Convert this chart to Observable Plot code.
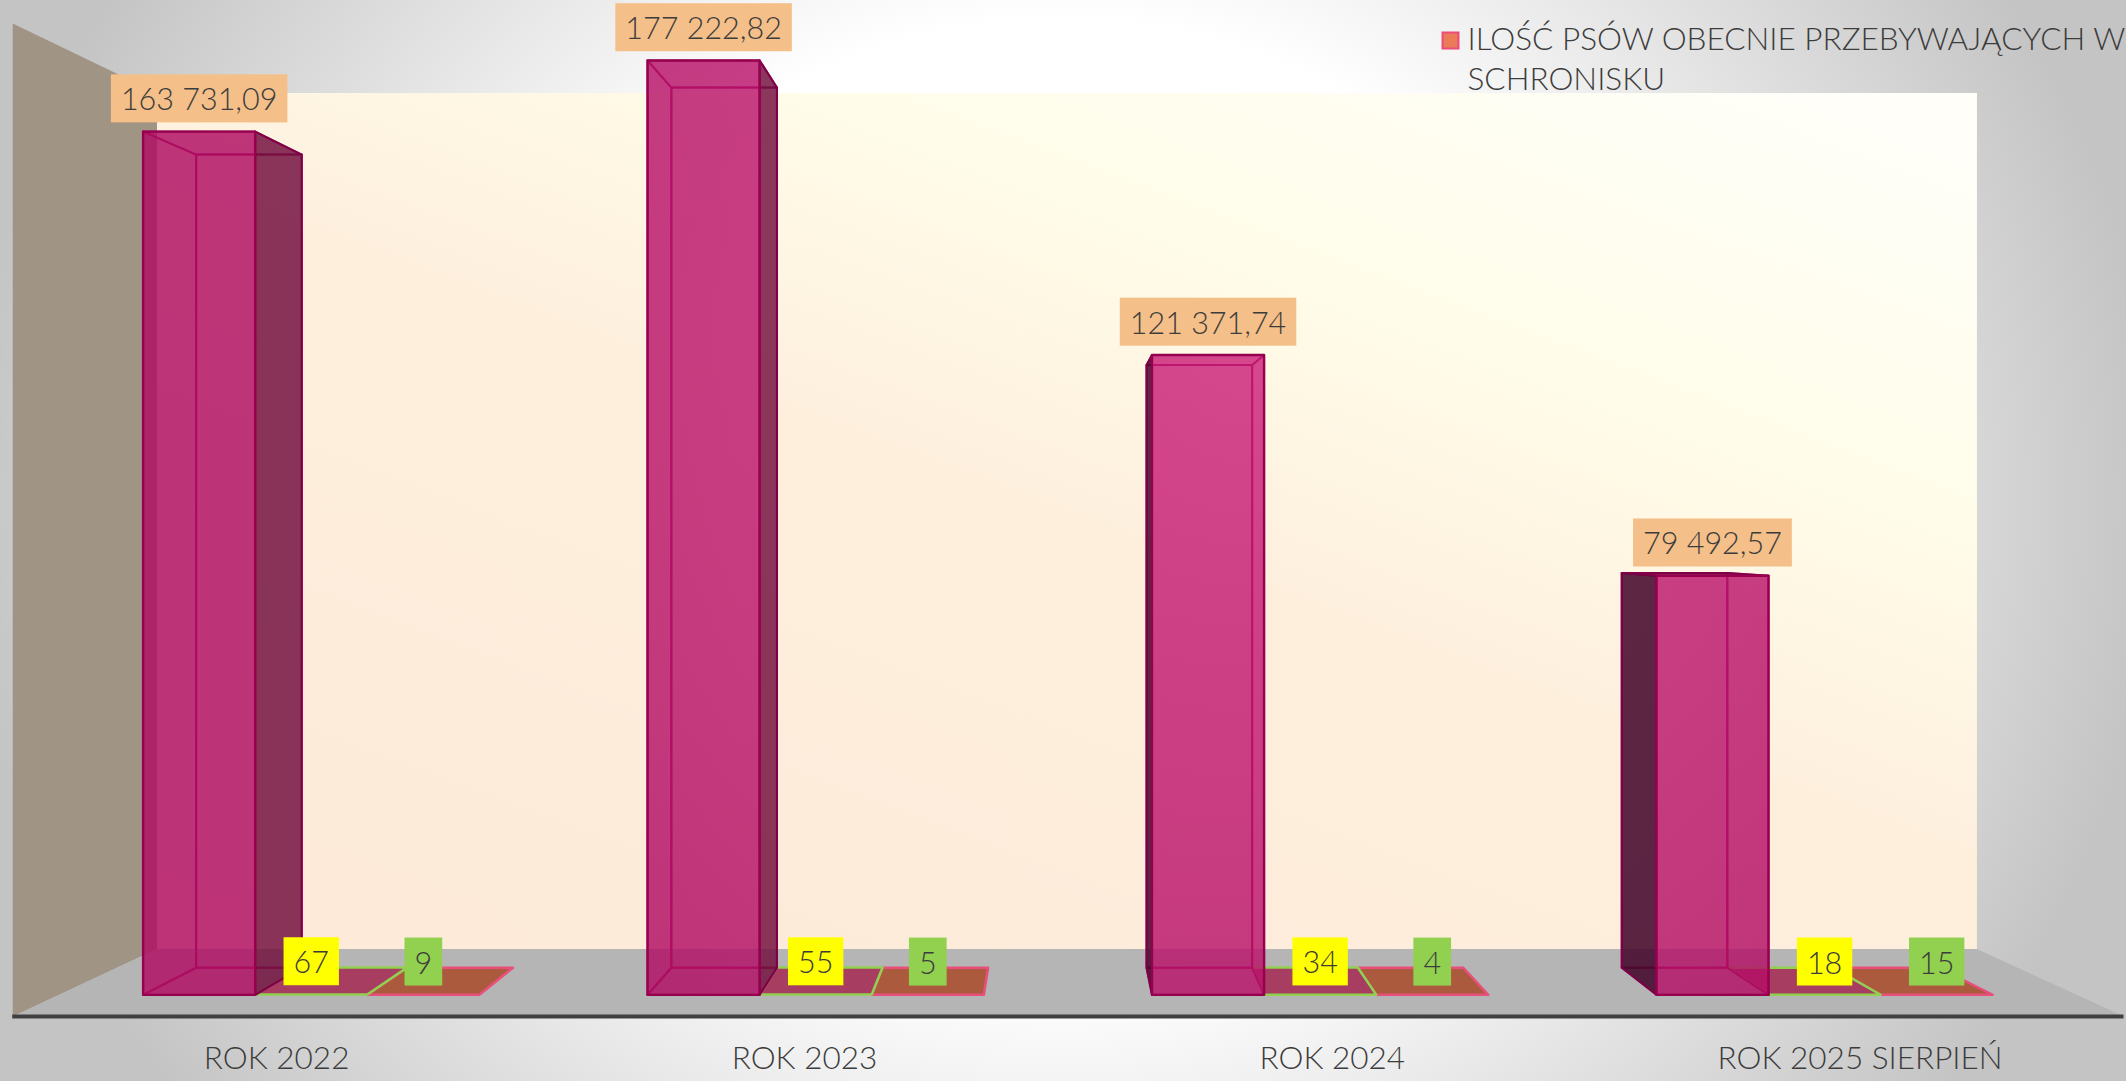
<!DOCTYPE html>
<html lang="pl">
<head>
<meta charset="utf-8">
<script src="https://cdn.jsdelivr.net/npm/d3@7"></script>
<script src="https://cdn.jsdelivr.net/npm/@observablehq/plot@0.6"></script>
<style>
html,body{margin:0;padding:0;width:2126px;height:1081px;overflow:hidden;
background:radial-gradient(ellipse 1100px 1000px at 1060px 500px,#fff 0,#fff 48%,#c4c4c4 100%);}
svg{display:block}
</style>
</head>
<body>
<div id="chart"></div>
<script>
const categories = ["ROK 2022", "ROK 2023", "ROK 2024", "ROK 2025 SIERPIEŃ"];
const dogsPresent = [163731.09, 177222.82, 121371.74, 79492.57];
const secondSeries = [67, 55, 34, 18];
const thirdSeries = [9, 5, 4, 15];
const legendLabel = "ILOŚĆ PSÓW OBECNIE PRZEBYWAJĄCYCH W\nSCHRONISKU";

const FONT = "Lato, 'Noto Sans', sans-serif";
const yMax = 180000;
// perspective of the chart's 3D box, in the chart's own units
const vp = {x: 1.981, v: 88650};
const depth = {wall: 0.862, barFront: 0.9557, barBack: 0.9003};
const project = (x, v, k) => ({x: vp.x + (x - vp.x) * k, y: vp.v + (v - vp.v) * k});
const poly = (id, pts) => [...pts, pts[0]].map(([x, v, k]) => ({id, ...project(x, v, k)}));

const pl = d3.formatLocale({decimal: ",", thousands: " ", grouping: [3]});
const fmt2 = pl.format(",.2f");

const barW = 2 / 9, gap = 1 / 6;
const faces = {inner: [], outerL: [], outerR: [], back: [], front: [], slab2: [], slab3: []};
const labels = {s1: [], s2: [], s3: []};
const {barFront: kf, barBack: kb} = depth;

categories.forEach((c, i) => {
  const x0 = i + gap, x1 = x0 + barW, v = dogsPresent[i];
  const id = "b" + i;
  const sides = {
    left: [[x0,0,kf],[x0,v,kf],[x0,v,kb],[x0,0,kb]],
    right: [[x1,0,kf],[x1,v,kf],[x1,v,kb],[x1,0,kb]],
    top: [[x0,v,kf],[x1,v,kf],[x1,v,kb],[x0,v,kb]],
    bottom: [[x0,0,kf],[x1,0,kf],[x1,0,kb],[x0,0,kb]]
  };
  const outerSide = x1 < vp.x ? "right" : "left";
  const outerTop = v < vp.v;
  faces.back.push(...poly(id + "back", [[x0,0,kb],[x1,0,kb],[x1,v,kb],[x0,v,kb]]));
  faces.front.push(...poly(id + "front", [[x0,0,kf],[x1,0,kf],[x1,v,kf],[x0,v,kf]]));
  for (const [name, pts] of Object.entries(sides)) {
    if (name === outerSide) (name === "left" ? faces.outerL : faces.outerR).push(...poly(id + name, pts));
    else if (name === "top" && outerTop) faces.outerR.push(...poly(id + name, pts));
    else faces.inner.push(...poly(id + name, pts));
  }
  [[secondSeries, "slab2", "s2"], [thirdSeries, "slab3", "s3"]].forEach(([arr, key, lk], n) => {
    const a = x1 + n * barW, b = a + barW, w = arr[i];
    faces[key].push(...poly(key + i, [[a,w,kf],[b,w,kf],[b,w,kb],[a,w,kb]]));
    labels[lk].push({...project((a + b) / 2, w, kf), t: String(w)});
  });
  labels.s1.push({...project((x0 + x1) / 2, v, kf), t: fmt2(v)});
});

const wall = poly("wall", [[0,0,depth.wall],[4,0,depth.wall],[4,yMax,depth.wall],[0,yMax,depth.wall]]);
const leftWall = poly("lw", [[0,0,1],[0,yMax,1],[0,yMax,depth.wall],[0,0,depth.wall]]);
const floor = poly("floor", [[0,0,1],[4,0,1],[4,0,depth.wall],[0,0,depth.wall]]);

const defs = () => {
  const d = d3.create("svg:defs");
  const g = d.append("linearGradient").attr("id", "wallGrad")
    .attr("x1", 0.1).attr("y1", 1).attr("x2", 0.9).attr("y2", 0);
  [[0,"#fdead9"],[0.5,"#feefdd"],[0.75,"#fffdea"],[1,"#fffef8"]].forEach(([o,c]) =>
    g.append("stop").attr("offset", o).attr("stop-color", c));
  const b = d.append("radialGradient").attr("id", "barGrad").attr("gradientUnits", "userSpaceOnUse")
    .attr("cx", 1250).attr("cy", 350).attr("r", 900);
  [[0,"#cd227b"],[1,"#b00c62"]].forEach(([o,c]) =>
    b.append("stop").attr("offset", o).attr("stop-color", c));
  return d.node();
};

const face = (data, o) => Plot.line(data, {x: "x", y: "y", z: "id", ...o});
const BAR = "url(#barGrad)";
const valueText = (data) => Plot.text(data, {
  x: "x", y: "y", text: "t", dy: -31, fontSize: 30.5, fontWeight: 300,
  fill: "#3c3c3c", lineAnchor: "middle", fontFamily: FONT
});

const chart = Plot.plot({
  width: 2126, height: 1081,
  margin: 0, marginTop: 0, marginRight: 0, marginBottom: 0, marginLeft: 0,
  style: {background: "transparent"},
  x: {type: "linear", domain: [0, 4], range: [12.2, 2123.5], axis: null},
  y: {type: "linear", domain: [0, yMax], range: [1016, 23], axis: null},
  marks: [
    defs,
    face(wall, {fill: "url(#wallGrad)", stroke: "none"}),
    face(leftWall, {fill: "#a09485", stroke: "none"}),
    face(floor, {fill: "#b5b5b5", stroke: "none"}),
    face(faces.slab3, {fill: "#ab5a3e", stroke: "#ea4f7c", strokeWidth: 2.5}),
    face(faces.slab2, {fill: "#a83d62", stroke: "#92d050", strokeWidth: 2.5}),
    face(faces.back, {fill: BAR, fillOpacity: 0.58, stroke: "#a8085e", strokeWidth: 2}),
    face(faces.inner, {fill: BAR, fillOpacity: 0.58, stroke: "#a8085e", strokeOpacity: 0.8, strokeWidth: 2}),
    face(faces.outerR, {fill: "#5c1232", fillOpacity: 0.62, stroke: "#7f0048", strokeWidth: 2}),
    face(faces.outerL, {fill: "#2c0820", fillOpacity: 0.72, stroke: "#7f0048", strokeWidth: 2}),
    face(faces.front, {fill: BAR, fillOpacity: 0.58, stroke: "#96004f", strokeWidth: 2.4}),
    Plot.ruleY([0], {x1: 0, x2: 4, stroke: "#404040", strokeWidth: 4}),
    Plot.text(categories, {
      x: (d, i) => i + 0.5, y: () => 0, text: d => d, dy: 42, fontSize: 31.5, fontWeight: 300,
      fill: "#3c3c3c", fontFamily: FONT, lineAnchor: "middle"
    }),
    Plot.dot([legendLabel], {
      frameAnchor: "top-left", dx: 1450, dy: 40, symbol: "square", r: 9,
      fill: "#ea7b58", stroke: "#ec4a7a", strokeWidth: 2
    }),
    Plot.text([legendLabel], {
      frameAnchor: "top-left", dx: 1467, dy: 22, text: d => d, textAnchor: "start", lineAnchor: "top",
      lineHeight: 1.25, fontSize: 31.5, fontWeight: 300, fill: "#3c3c3c", fontFamily: FONT
    }),
    valueText(labels.s1),
    valueText(labels.s2),
    valueText(labels.s3)
  ]
});
document.getElementById("chart").append(chart);

// Label boxes sized from the rendered text (the last three text marks)
const textGroups = [...chart.querySelectorAll('g[aria-label="text"]')].slice(-3);
["#f4bf88", "#ffff00", "#92d050"].forEach((col, n) => {
  textGroups[n].querySelectorAll("text").forEach(t => {
    const b = t.getBBox(), padX = 10, h = 48;
    const r = document.createElementNS("http://www.w3.org/2000/svg", "rect");
    r.setAttribute("x", b.x - padX);
    r.setAttribute("y", b.y + b.height / 2 - h / 2);
    r.setAttribute("width", b.width + 2 * padX);
    r.setAttribute("height", h);
    r.setAttribute("fill", col);
    if (t.getAttribute("transform")) r.setAttribute("transform", t.getAttribute("transform"));
    t.parentNode.insertBefore(r, t);
  });
});
</script>
</body>
</html>
